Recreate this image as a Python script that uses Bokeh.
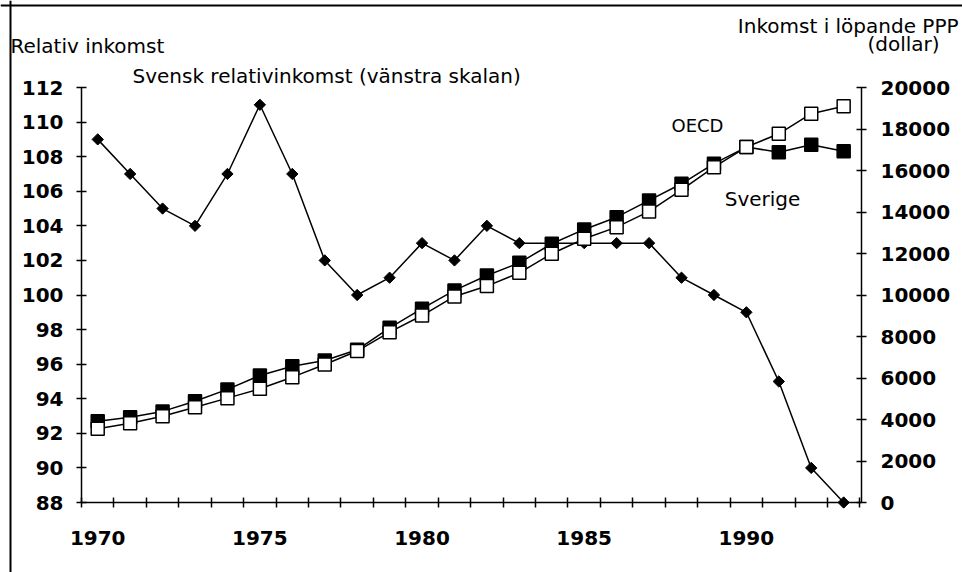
import numpy as np
from bokeh.plotting import figure
from bokeh.models import Range1d, LinearAxis, FixedTicker, Label, Span
from bokeh.embed import file_html
from bokeh.resources import INLINE

# ---- data ----
years = list(range(1970, 1994))
rel_income = [109, 107, 105, 104, 107, 111, 107, 102, 100, 101, 103, 102,
              104, 103, 103, 103, 103, 103, 101, 100, 99, 95, 90, 88]
sverige_usd = [3920, 4110, 4390, 4880, 5450, 6120, 6570, 6840, 7360, 8420,
               9340, 10220, 10940, 11550, 12470, 13160, 13750, 14560, 15360,
               16330, 17130, 16880, 17240, 16930]
oecd_usd = [3550, 3820, 4160, 4590, 5030, 5480, 6040, 6650, 7300, 8210,
            9010, 9930, 10430, 11070, 11990, 12710, 13270, 14030, 15070,
            16160, 17130, 17770, 18740, 19100]
left_ticks = list(range(88, 113, 2))
right_ticks = list(range(0, 20001, 2000))
year_labels = [1970, 1975, 1980, 1985, 1990]

FONT = "DejaVu Sans"

# ---- layout geometry (pixels on the page) ----
W, H = 962, 572
AX_L, AX_R, AX_T, AX_B = 81, 861, 87, 502     # axis box in page pixels
X_LO, X_HI = 1969.5, 1993.55                   # years at left/right axis
L_LO, L_HI = 88, 112                           # left scale
R_LO, R_HI = 0, 20000                          # right scale

ppx = (AX_R - AX_L) / (X_HI - X_LO)
ppl = (AX_B - AX_T) / (L_HI - L_LO)
ppr = (AX_B - AX_T) / (R_HI - R_LO)


def xd(px):
    return X_LO + (px - AX_L) / ppx


def yd(py):
    return L_LO + (AX_B - py) / ppl


x_range = Range1d(xd(0), xd(W))
y_range = Range1d(yd(H), yd(0))
usd_range = Range1d(R_LO + (AX_B - H) / ppr, R_LO + AX_B / ppr)

p = figure(width=W, height=H, x_range=x_range, y_range=y_range,
           output_backend="svg", toolbar_location=None, min_border=0)
p.title.visible = False
p.outline_line_color = None
p.grid.visible = False
p.background_fill_color = "white"
p.border_fill_color = "white"
p.extra_y_ranges = {"usd": usd_range}


def style_axis(ax, font_size):
    ax.axis_line_color = "black"
    ax.axis_line_width = 1.5
    ax.major_tick_line_color = "black"
    ax.major_tick_line_width = 1.5
    ax.minor_tick_line_color = "black"
    ax.minor_tick_line_width = 1.5
    ax.major_label_text_font = FONT
    ax.major_label_text_font_style = "bold"
    ax.major_label_text_font_size = font_size
    ax.major_label_text_color = "black"


# x axis: labels at years, ticks at year boundaries (minor ticks)
xa = p.xaxis[0]
xa.ticker = FixedTicker(ticks=year_labels,
                        minor_ticks=[y - 0.5 for y in years] + [years[-1] + 0.5])
style_axis(xa, "20px")
xa.fixed_location = L_LO
xa.bounds = (X_LO, X_HI)
xa.major_tick_in = 0
xa.major_tick_out = 0
xa.minor_tick_in = 5
xa.minor_tick_out = 5
xa.major_label_standoff = 23

# left axis
ya = p.yaxis[0]
ya.ticker = FixedTicker(ticks=left_ticks)
style_axis(ya, "20px")
ya.fixed_location = X_LO
ya.bounds = (L_LO, L_HI)
ya.major_tick_in = 5
ya.major_tick_out = 5
ya.minor_tick_in = 0
ya.minor_tick_out = 0
ya.major_label_standoff = 13

# right axis
ra = LinearAxis(y_range_name="usd", ticker=FixedTicker(ticks=right_ticks))
style_axis(ra, "20px")
ra.fixed_location = X_HI
ra.bounds = (R_LO, R_HI)
ra.major_tick_in = 5
ra.major_tick_out = 5
ra.minor_tick_in = 0
ra.minor_tick_out = 0
ra.major_label_standoff = 14
p.add_layout(ra, "right")

# frame lines (top and left border of the figure box)
p.add_layout(Span(location=yd(5), dimension="width", line_color="black", line_width=2))
p.add_layout(Span(location=xd(10), dimension="height", line_color="black", line_width=2))

# relative income (left scale)
p.line(years, rel_income, line_color="black", line_width=1.5)
p.scatter(years, rel_income, marker="square", angle=np.pi / 4, size=8,
          fill_color="black", line_color="black")

# Sverige income (right scale)
p.line(years, sverige_usd, y_range_name="usd", line_color="black", line_width=1.5)
p.scatter(years, sverige_usd, y_range_name="usd", marker="square", size=13,
          fill_color="black", line_color="black", line_width=1.5)

# OECD income (right scale)
p.line(years, oecd_usd, y_range_name="usd", line_color="black", line_width=1.5)
p.scatter(years, oecd_usd, y_range_name="usd", marker="square", size=13,
          fill_color="white", line_color="black", line_width=1.5)


def add_label(px, py, text, size="20px", align="left"):
    p.add_layout(Label(x=xd(px), y=yd(py), text=text, text_font=FONT,
                       text_font_size=size, text_align=align,
                       text_baseline="middle", text_color="black"))


add_label(10, 45, "Relativ inkomst")
add_label(132, 75, "Svensk relativinkomst (vänstra skalan)")
add_label(958, 25, "Inkomst i löpande PPP", align="right")
add_label(903, 43, "(dollar)", align="center")
add_label(697, 125, "OECD", size="18px", align="center")
add_label(762, 198, "Sverige", align="center")

open("out.html", "w").write(file_html(p, INLINE))
